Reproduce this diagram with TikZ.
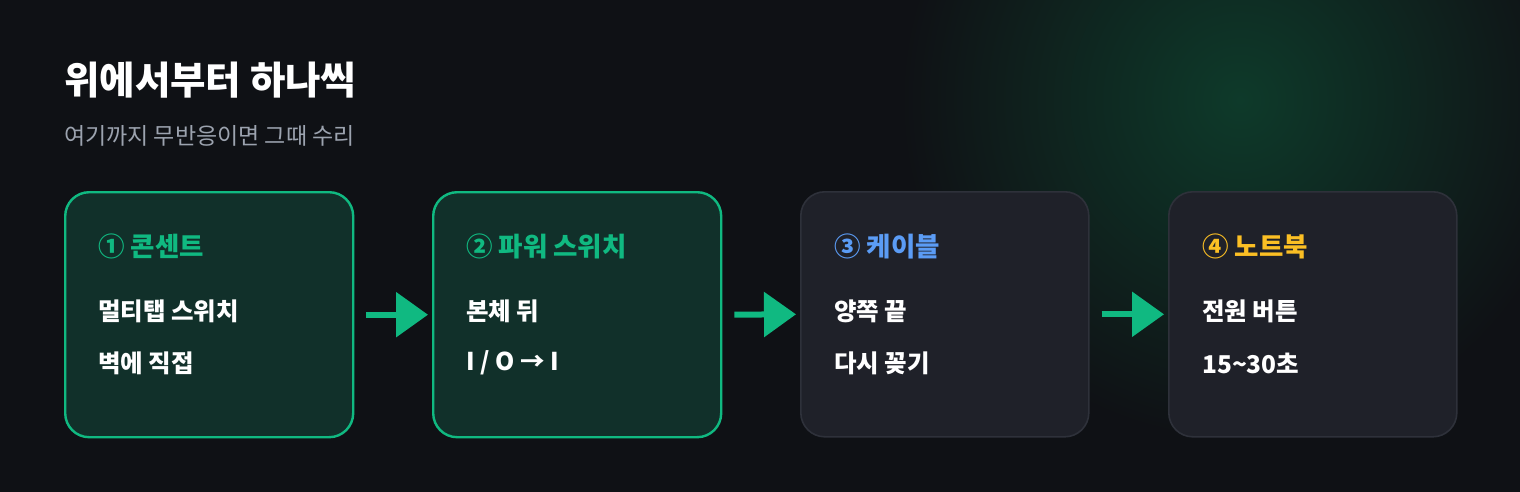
\documentclass[tikz,border=0pt]{standalone}
\usepackage{fontspec}
\setmainfont{Noto Sans CJK KR}
\usetikzlibrary{positioning, arrows.meta}

\definecolor{bgdark}{HTML}{0F1115}
\definecolor{glow}{HTML}{0E3A2A}
\definecolor{okgreen}{HTML}{10B981}
\definecolor{greenfill}{HTML}{11302A}
\definecolor{cardfill}{HTML}{1F2129}
\definecolor{cardline}{HTML}{2E313A}
\definecolor{stepblue}{HTML}{5B9CF5}
\definecolor{stepamber}{HTML}{FBBF24}
\definecolor{subgray}{HTML}{9CA3AF}

\begin{document}
\begin{tikzpicture}[
    x=1pt, y=1pt,
    card/.style={rounded corners=24pt, minimum width=288pt, minimum height=245pt, anchor=north west, line width=1.6pt, inner sep=0pt},
    donecard/.style={card, draw=okgreen, fill=greenfill, line width=2.4pt},
    opencard/.style={card, draw=cardline, fill=cardfill},
    head/.style={anchor=west, font=\bfseries\fontsize{26.5}{30}\selectfont, inner sep=0pt},
    line/.style={anchor=west, font=\bfseries\fontsize{24.5}{28}\selectfont, text=white, inner sep=0pt},
    flow/.style={okgreen, line width=6pt, -{Triangle[length=32pt, width=44pt]}, shorten <=12pt, shorten >=4pt},
]

% background and glow
\fill[bgdark] (0, 0) rectangle (1520, -492);
\begin{scope}
  \clip (0, 0) rectangle (1520, -492);
  \shade[inner color=glow, outer color=bgdark] (1240, -100) circle (340);
\end{scope}
\useasboundingbox (0, 0) rectangle (1520, -492);

\node[anchor=base west, inner sep=0pt, text=white, font=\bfseries\fontsize{38.5}{44}\selectfont] (title) at (64, -95) {위에서부터 하나씩};
\node[anchor=base west, inner sep=0pt, text=subgray, font=\fontsize{23}{28}\selectfont] (sub) at (64, -144) {여기까지 무반응이면 그때 수리};

\node[donecard] (outlet) at (64, -191) {};
\node[donecard] (switch) at (432, -191) {};
\node[opencard] (cable) at (800, -191) {};
\node[opencard] (laptop) at (1168, -191) {};

\draw (outlet.north west) ++(34, -55) node[head, text=okgreen] (h1) {① 콘센트};
\draw (outlet.north west) ++(34, -120) node[line] (l1a) {멀티탭 스위치};
\draw (outlet.north west) ++(34, -172) node[line] (l1b) {벽에 직접};

\draw (switch.north west) ++(34, -55) node[head, text=okgreen] (h2) {② 파워 스위치};
\draw (switch.north west) ++(34, -120) node[line] (l2a) {본체 뒤};
\draw (switch.north west) ++(34, -172) node[line] (l2b) {I / O → I};

\draw (cable.north west) ++(34, -55) node[head, text=stepblue] (h3) {③ 케이블};
\draw (cable.north west) ++(34, -120) node[line] (l3a) {양쪽 끝};
\draw (cable.north west) ++(34, -172) node[line] (l3b) {다시 꽂기};

\draw (laptop.north west) ++(34, -55) node[head, text=stepamber] (h4) {④ 노트북};
\draw (laptop.north west) ++(34, -120) node[line] (l4a) {전원 버튼};
\draw (laptop.north west) ++(34, -172) node[line] (l4b) {15\textasciitilde30초};

\draw[flow] (outlet.east) -- (switch.west);
\draw[flow] (switch.east) -- (cable.west);
\draw[flow] (cable.east) -- (laptop.west);
\end{tikzpicture}
\end{document}
